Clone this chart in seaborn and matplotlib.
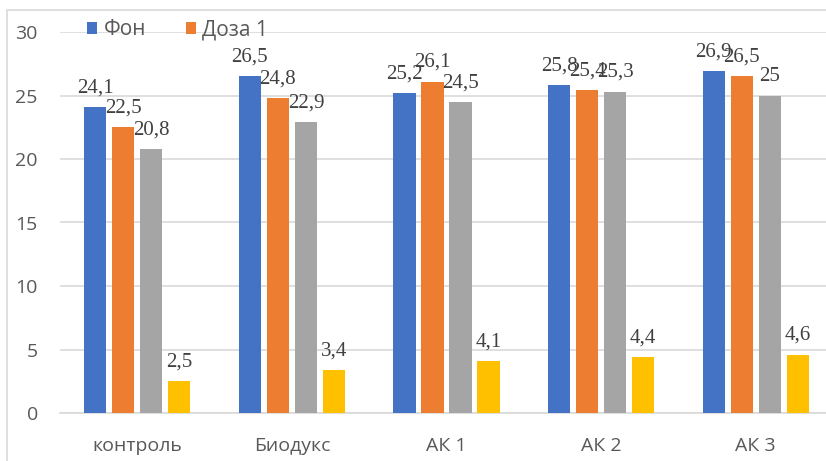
import pandas as pd
import seaborn as sns
import matplotlib.pyplot as plt
from matplotlib.patches import Rectangle, Patch

categories = ["контроль", "Биодукс", "АК 1", "АК 2", "АК 3"]
series = ["Фон", "Доза 1", "Доза 2", "Доза 3"]
fon = [24.1, 26.5, 25.2, 25.8, 26.9]
doza1 = [22.5, 24.8, 26.1, 25.4, 26.5]
doza2 = [20.8, 22.9, 24.5, 25.3, 25.0]
doza3 = [2.5, 3.4, 4.1, 4.4, 4.6]
colors = ["#4472C4", "#ED7D31", "#A5A5A5", "#FFC000"]
y_ticks = [0, 5, 10, 15, 20, 25, 30]

values = [fon, doza1, doza2, doza3]
df = pd.DataFrame(
    [(c, s, v) for s, vals in zip(series, values) for c, v in zip(categories, vals)],
    columns=["group", "series", "value"],
)

sns.set_style("white")
plt.rcParams["font.family"] = ["Open Sans", "DejaVu Sans"]

W, H = 826, 461
fig = plt.figure(figsize=(W / 100, H / 100), dpi=100)
ax = fig.add_axes([60 / W, 48 / H, 773 / W, 381 / H])

sns.barplot(
    data=df, x="group", y="value", hue="series", order=categories,
    hue_order=series, palette=colors, width=0.725, gap=0.21,
    errorbar=None, saturation=1, linewidth=0, legend=False, ax=ax, zorder=3,
)

# value labels above each bar, decimal comma
for cont, vals in zip(ax.containers, values):
    labels = [f"{v:g}".replace(".", ",") for v in vals]
    ax.bar_label(cont, labels=labels, padding=7, fontsize=15,
                 family=["Liberation Serif"], color="#404040")

ax.set_xlim(-0.5, 4.5)
ax.set_ylim(0, 30)
ax.set_yticks(y_ticks)
ax.set_yticklabels([str(t) for t in y_ticks])
ax.set_xlabel("")
ax.set_ylabel("")
ax.yaxis.grid(True, color="#d9d9d9", linewidth=1.2, zorder=0)
ax.set_axisbelow(True)
for side in ["top", "right", "left"]:
    ax.spines[side].set_visible(False)
ax.spines["bottom"].set_color("#d9d9d9")
ax.spines["bottom"].set_linewidth(1.2)
ax.tick_params(axis="both", length=0)
ax.tick_params(axis="y", pad=16, labelsize=14, labelcolor="#595959")
ax.tick_params(axis="x", pad=17, labelsize=14, labelcolor="#595959")

handles = [Patch(facecolor=colors[i], edgecolor="none") for i in range(2)]
fig.legend(
    handles, series[:2], loc="upper left", bbox_to_anchor=(87 / W, 1 - 19 / H),
    bbox_transform=fig.transFigure, ncol=2, frameon=False, fontsize=15,
    handlelength=0.5, handleheight=0.5, handletextpad=0.3, columnspacing=1.9,
    borderpad=0, borderaxespad=0, labelcolor="#595959",
)

# chart-area border
fig.add_artist(Rectangle((7 / W, -0.2), 1.5, 1.2 - 10 / H,
                         transform=fig.transFigure, fill=False,
                         edgecolor="#d9d9d9", linewidth=1.2))

fig.savefig("out.png", dpi=100)
